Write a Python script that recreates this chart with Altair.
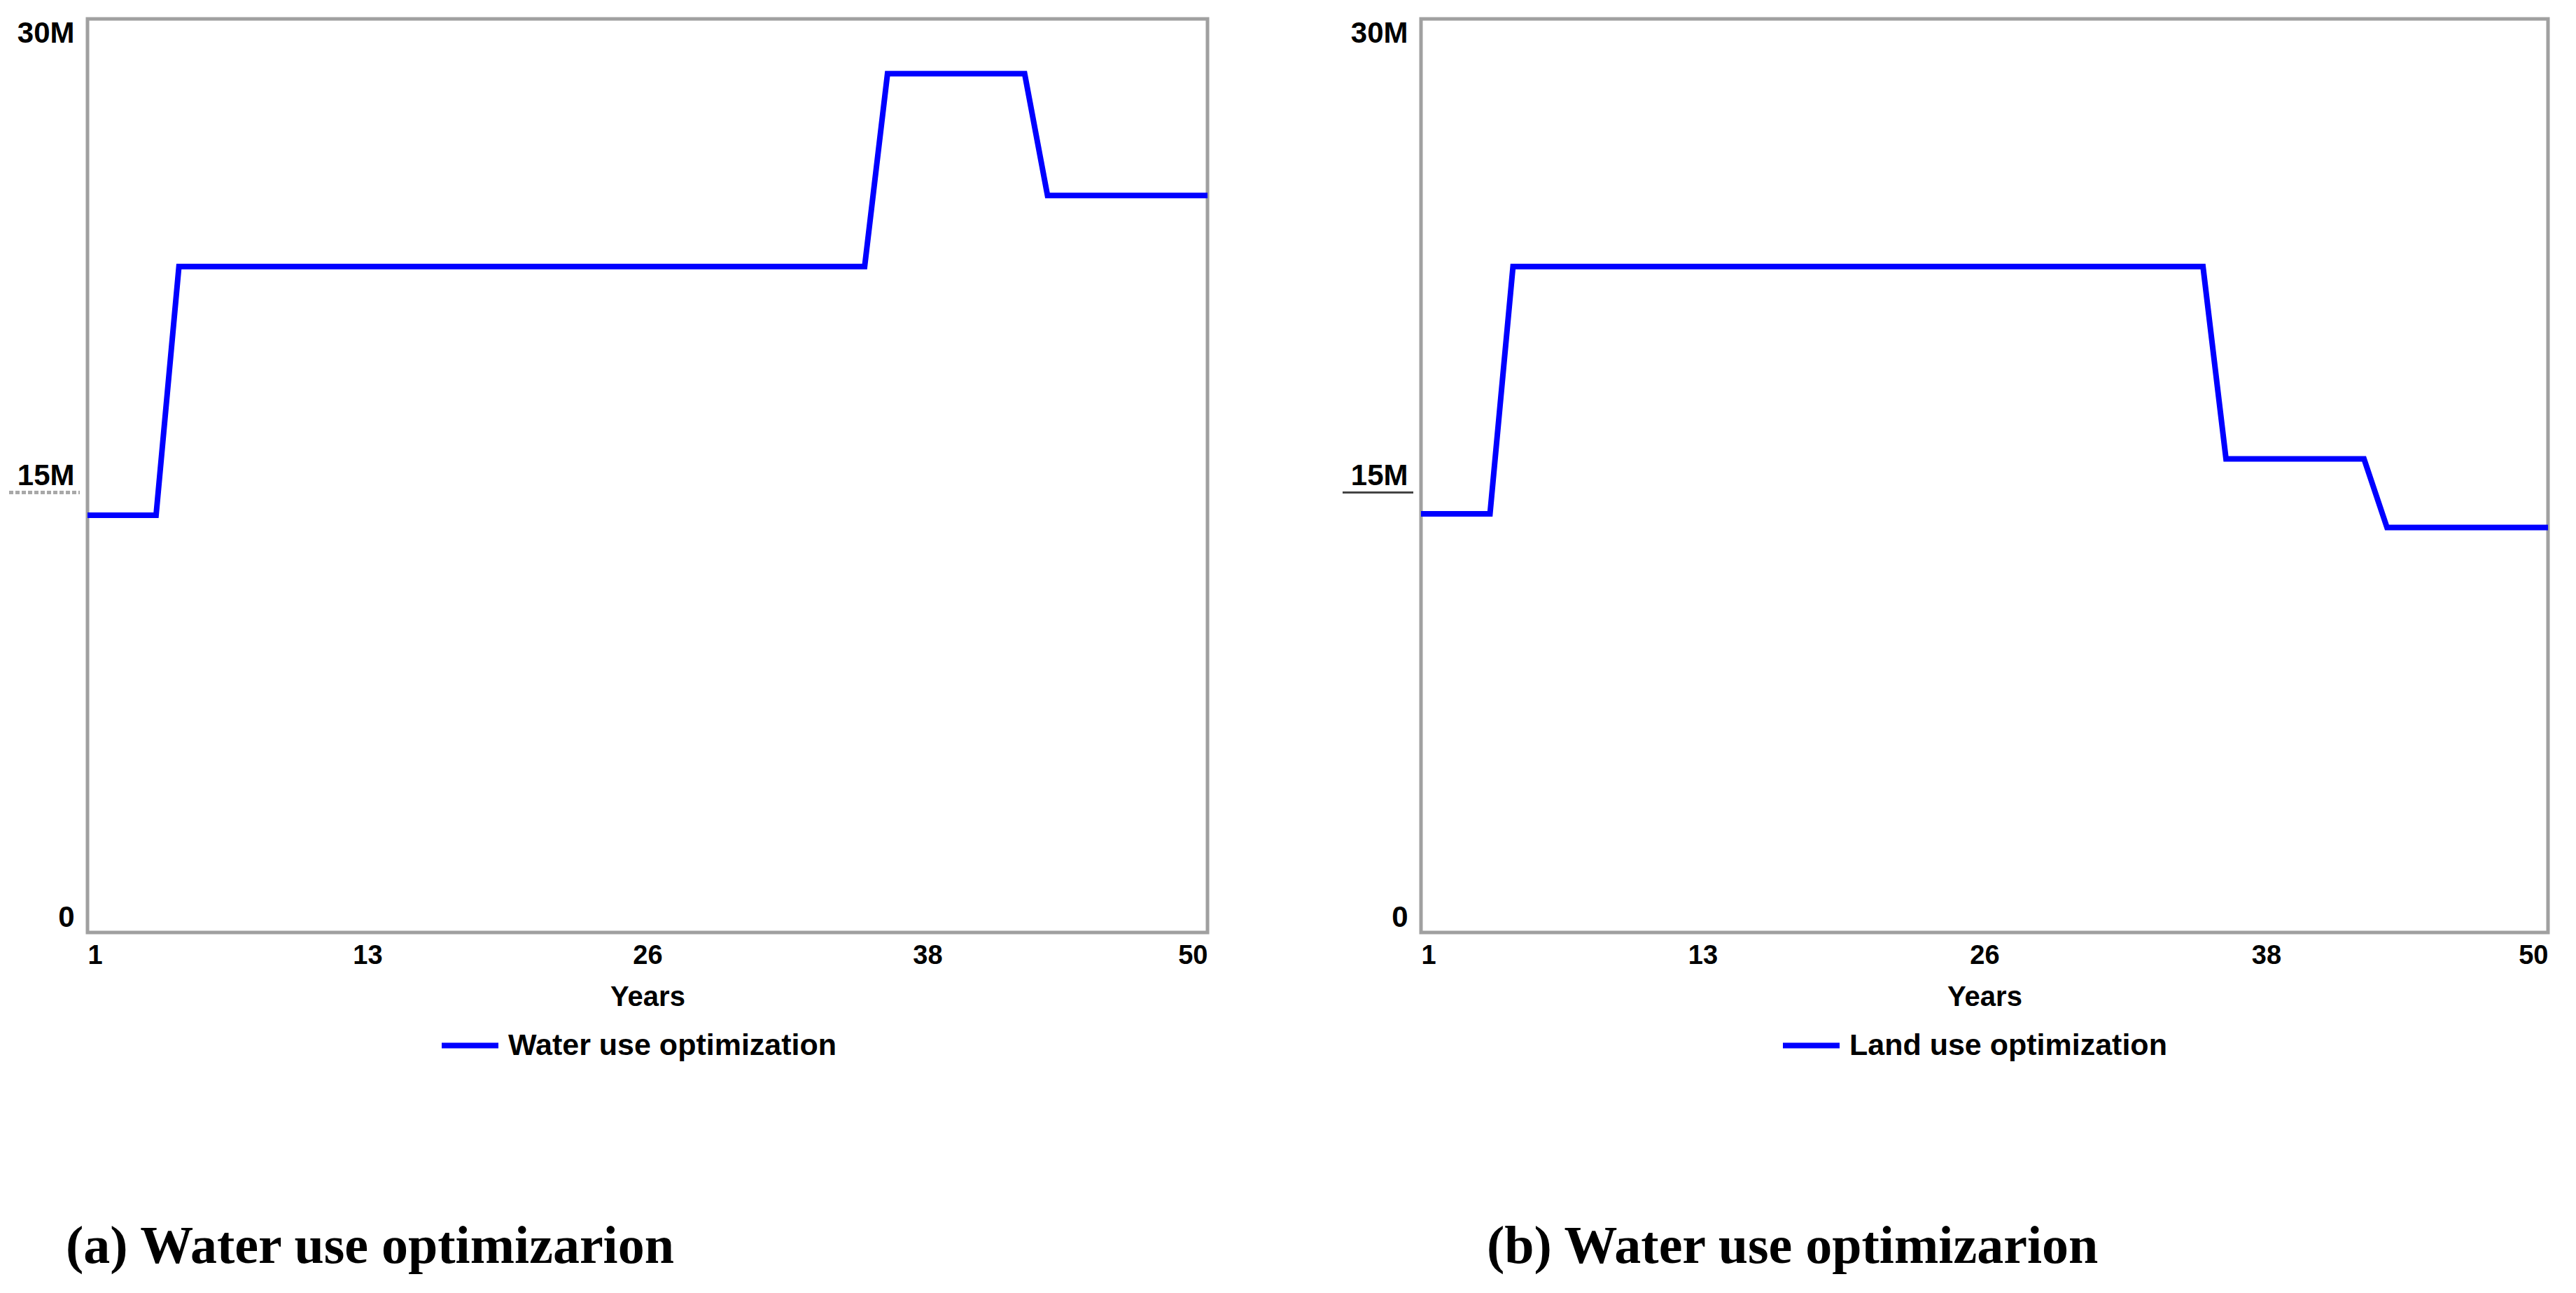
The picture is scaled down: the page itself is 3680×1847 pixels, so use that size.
import altair as alt
import pandas as pd

# Panel (a): Water use optimization (breakpoints)
years_a = [1, 4, 5, 35, 36, 42, 43, 50]
values_a = [13_700_000, 13_700_000, 21_870_000, 21_870_000,
            28_200_000, 28_200_000, 24_200_000, 24_200_000]

# Panel (b): Land use optimization
years_b = [1, 4, 5, 35, 36, 42, 43, 50]
values_b = [13_750_000, 13_750_000, 21_870_000, 21_870_000,
            15_550_000, 15_550_000, 13_300_000, 13_300_000]

x_ticks = [1, 13.25, 25.5, 37.75, 50]
y_ticks = [0, 15_000_000, 30_000_000]
ref_value = [15_000_000]

SANS = "Liberation Sans"
SERIF = "Liberation Serif"


def panel(years, values, name, caption, width, legend_x, caption_dx, dotted):
    df = pd.DataFrame({"Years": years, "Value": values, "Series": [name] * len(years)})
    xscale = alt.Scale(domain=[1, 50], nice=False, zero=False)
    yscale = alt.Scale(domain=[0, 30_000_000], nice=False)
    x = alt.X(
        "Years:Q", scale=xscale,
        axis=alt.Axis(values=x_ticks, labelExpr="round(datum.value)", title="Years",
                      grid=False, ticks=False, tickSize=0, domain=False,
                      labelFont=SANS, labelFontSize=38, labelFontWeight="bold",
                      labelColor="black", labelPadding=14,
                      titleFont=SANS, titleFontSize=40, titleFontWeight="bold",
                      titleColor="black", titlePadding=20),
    )
    y = alt.Y(
        "Value:Q", scale=yscale,
        axis=alt.Axis(values=y_ticks,
                      labelExpr="datum.value == 0 ? '0' : format(datum.value / 1000000, 'd') + 'M'",
                      title=None, grid=False, ticks=False, tickSize=0, domain=False,
                      labelFlush=True, labelPadding=19,
                      labelFont=SANS, labelFontSize=42, labelFontWeight="bold",
                      labelColor="black"),
    )
    color = alt.Color(
        "Series:N",
        scale=alt.Scale(domain=[name], range=["#0000ff"]),
        legend=alt.Legend(title=None, orient="none", legendX=legend_x, legendY=1422,
                          symbolType="stroke", symbolSize=6561, symbolStrokeWidth=8,
                          labelFont=SANS, labelFontSize=43, labelFontWeight="bold",
                          labelColor="black", labelOffset=10, padding=0, labelLimit=2000),
    )
    line = alt.Chart(df).mark_line(strokeWidth=8, color="#0000ff").encode(x=x, y=y, color=color)

    rdf = pd.DataFrame({"Value": ref_value})
    if dotted:
        rmark = alt.Chart(rdf).mark_rule(yOffset=24, stroke="#a8a8a8", strokeWidth=5,
                                         strokeDash=[6, 3])
    else:
        rmark = alt.Chart(rdf).mark_rule(yOffset=24, stroke="#444444", strokeWidth=3)
    rule = rmark.encode(y=alt.Y("Value:Q", scale=yscale), x=alt.value(-112), x2=alt.value(-11))

    return alt.layer(line, rule).properties(
        width=width, height=1305,
        title=alt.TitleParams(caption, orient="bottom", anchor="start", frame="group",
                              dx=caption_dx, offset=228, font=SERIF, fontSize=76,
                              fontWeight="bold", color="black"),
    )


pa = panel(years_a, values_a, "Water use optimization", "(a) Water use optimizarion",
           1600, 502, -31, True)
pb = panel(years_b, values_b, "Land use optimization", "(b) Water use optimizarion",
           1610, 513, 94, False)

chart = (
    alt.hconcat(pa, pb, spacing=170)
    .resolve_scale(color="independent")
    .properties(padding={"left": 0, "top": 15, "right": 0, "bottom": 0},
                background="white")
    .configure_view(stroke="#a0a0a0", strokeWidth=5)
)

chart.save("out.html", embed_options={"renderer": "svg", "actions": False})
